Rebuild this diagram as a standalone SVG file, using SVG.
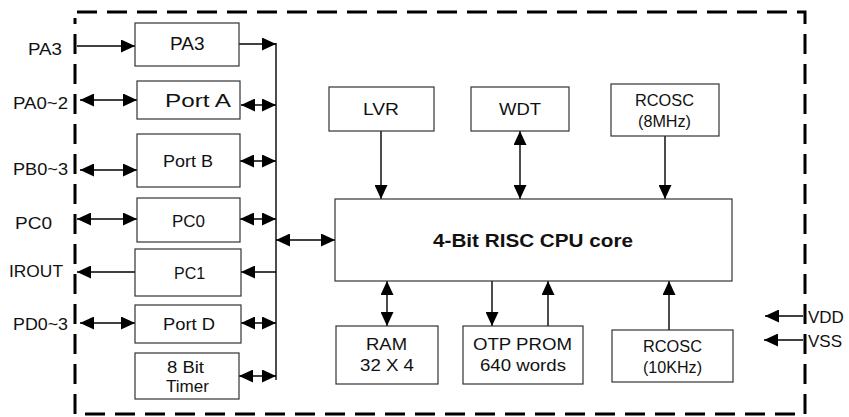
<svg xmlns="http://www.w3.org/2000/svg" width="849" height="417" viewBox="0 0 849 417">
<defs>
<marker id="ah" markerUnits="userSpaceOnUse" markerWidth="15" markerHeight="13" refX="14" refY="6.5" orient="auto-start-reverse" viewBox="0 0 15 13">
<path d="M0,0 L14,6.5 L0,13 z" fill="#000"/>
</marker>
<style>
.b{fill:#fff;stroke:#333;stroke-width:1.2}
.t{font-family:"Liberation Sans",Arial,sans-serif;font-size:17px;fill:#111}
.s{font-size:16px}
.w{fill:none;stroke:#000;stroke-width:1.4}
.e{marker-end:url(#ah)}
.d{marker-start:url(#ah);marker-end:url(#ah)}
.frame{fill:none;stroke:#000;stroke-width:3;stroke-dasharray:20 10}
</style>
</defs>
<rect width="849" height="417" fill="#fff"/>
<path class="frame" d="M77,12 H805 V414 H75 V18"/>

<g id="connectors">
<line class="w" x1="276" y1="43" x2="276" y2="380"/>
<line class="w e" x1="77" y1="46" x2="135" y2="46"/>
<line class="w d" x1="80" y1="100" x2="137" y2="100"/>
<line class="w d" x1="80" y1="170" x2="137" y2="170"/>
<line class="w d" x1="77" y1="219" x2="137" y2="219"/>
<line class="w e" x1="135" y1="272" x2="77" y2="272"/>
<line class="w d" x1="80" y1="323" x2="135" y2="323"/>
<line class="w e" x1="239" y1="44" x2="276" y2="44"/>
<line class="w d" x1="241" y1="105" x2="276" y2="105"/>
<line class="w d" x1="240" y1="161" x2="276" y2="161"/>
<line class="w d" x1="240" y1="219" x2="276" y2="219"/>
<line class="w e" x1="276" y1="272" x2="241" y2="272"/>
<line class="w d" x1="241" y1="323" x2="276" y2="323"/>
<line class="w d" x1="239" y1="376" x2="276" y2="376"/>
<line class="w d" x1="276" y1="240" x2="335" y2="240"/>
<line class="w e" x1="381" y1="131" x2="381" y2="199"/>
<line class="w d" x1="520" y1="131" x2="520" y2="199"/>
<line class="w e" x1="665" y1="136" x2="665" y2="199"/>
<line class="w d" x1="387" y1="281" x2="387" y2="326"/>
<line class="w e" x1="492" y1="281" x2="492" y2="326"/>
<line class="w e" x1="548" y1="326" x2="548" y2="281"/>
<line class="w e" x1="669" y1="330" x2="669" y2="281"/>
<line class="w e" x1="803" y1="316" x2="765" y2="316"/>
<line class="w e" x1="803" y1="340" x2="764" y2="340"/>
</g>

<g id="labels">
<text class="t" x="28" y="55" textLength="34" lengthAdjust="spacingAndGlyphs">PA3</text>
<text class="t" x="13" y="109" textLength="55" lengthAdjust="spacingAndGlyphs">PA0~2</text>
<text class="t" x="13" y="175" textLength="55" lengthAdjust="spacingAndGlyphs">PB0~3</text>
<text class="t" x="15" y="229" textLength="37" lengthAdjust="spacingAndGlyphs">PC0</text>
<text class="t" x="9" y="277" textLength="54" lengthAdjust="spacingAndGlyphs">IROUT</text>
<text class="t" x="13" y="330" textLength="55" lengthAdjust="spacingAndGlyphs">PD0~3</text>
<text class="t" x="808" y="323">VDD</text>
<text class="t" x="808" y="347">VSS</text>
</g>

<g id="pa3"><rect class="b" x="135" y="23" width="104" height="43"/><text class="t" x="170" y="50" style="font-size:19px">PA3</text></g>
<g id="porta"><rect class="b" x="137" y="81" width="103" height="38"/><text class="t" x="165" y="107" style="font-size:18px" textLength="66" lengthAdjust="spacingAndGlyphs">Port A</text></g>
<g id="portb"><rect class="b" x="137" y="134" width="103" height="53"/><text class="t" x="163" y="167" textLength="50" lengthAdjust="spacingAndGlyphs">Port B</text></g>
<g id="pc0"><rect class="b" x="137" y="198" width="103" height="44"/><text class="t" x="172" y="227">PC0</text></g>
<g id="pc1"><rect class="b" x="135" y="249" width="106" height="47"/><text class="t s" x="174" y="279">PC1</text></g>
<g id="portd"><rect class="b" x="135" y="305" width="106" height="38"/><text class="t" x="163" y="330" textLength="52" lengthAdjust="spacingAndGlyphs">Port D</text></g>
<g id="timer"><rect class="b" x="135" y="353" width="104" height="46"/><text class="t s" x="167" y="373" textLength="37" lengthAdjust="spacingAndGlyphs">8 Bit</text><text class="t s" x="166" y="392" textLength="43" lengthAdjust="spacingAndGlyphs">Timer</text></g>

<g id="lvr"><rect class="b" x="329" y="87" width="105" height="44"/><text class="t" x="363" y="115" textLength="36" lengthAdjust="spacingAndGlyphs">LVR</text></g>
<g id="wdt"><rect class="b" x="471" y="87" width="98" height="44"/><text class="t" x="499" y="115" textLength="42" lengthAdjust="spacingAndGlyphs">WDT</text></g>
<g id="rcosc8"><rect class="b" x="611" y="84" width="108" height="52"/><text class="t s" x="635" y="106" textLength="59" lengthAdjust="spacingAndGlyphs">RCOSC</text><text class="t s" x="638" y="127" textLength="53" lengthAdjust="spacingAndGlyphs">(8MHz)</text></g>

<g id="cpu"><rect class="b" x="335" y="199" width="397" height="82"/><text class="t" x="433" y="247" style="font-size:18px;font-weight:bold" textLength="200" lengthAdjust="spacingAndGlyphs">4-Bit RISC CPU core</text></g>

<g id="ram"><rect class="b" x="336" y="326" width="102" height="58"/><text class="t" x="366" y="350" textLength="41" lengthAdjust="spacingAndGlyphs">RAM</text><text class="t" x="360" y="371" textLength="54" lengthAdjust="spacingAndGlyphs">32 X 4</text></g>
<g id="otp"><rect class="b" x="463" y="326" width="120" height="58"/><text class="t" x="473" y="350" textLength="99" lengthAdjust="spacingAndGlyphs">OTP PROM</text><text class="t" x="480" y="371" textLength="86" lengthAdjust="spacingAndGlyphs">640 words</text></g>
<g id="rcosc10"><rect class="b" x="612" y="330" width="121" height="52"/><text class="t s" x="643" y="352" textLength="59" lengthAdjust="spacingAndGlyphs">RCOSC</text><text class="t s" x="643" y="373" textLength="59" lengthAdjust="spacingAndGlyphs">(10KHz)</text></g>
</svg>
